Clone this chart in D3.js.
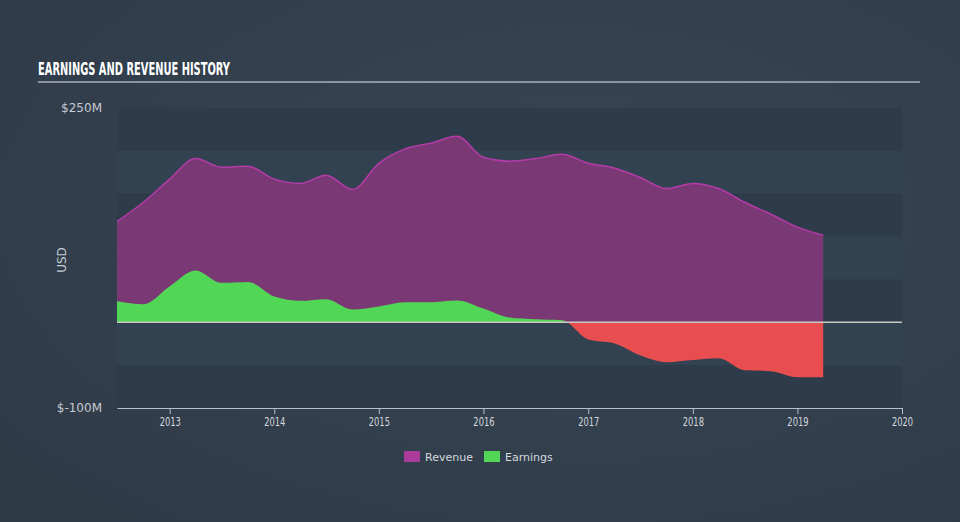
<!DOCTYPE html>
<html>
<head>
<meta charset="utf-8">
<script src="https://cdn.jsdelivr.net/npm/d3@7"></script>
<style>
  html, body { margin: 0; padding: 0; background: #35424f; }
  svg { display: block; }
</style>
</head>
<body>
<svg id="chart" width="960" height="522"></svg>
<script>
// ---- data ----
const dates = ["2012-07-01","2012-10-01","2013-01-01","2013-04-01","2013-07-01","2013-10-01",
  "2014-01-01","2014-04-01","2014-07-01","2014-10-01","2015-01-01","2015-04-01","2015-07-01","2015-10-01",
  "2016-01-01","2016-04-01","2016-07-01","2016-10-01","2017-01-01","2017-04-01","2017-07-01","2017-10-01",
  "2018-01-01","2018-04-01","2018-07-01","2018-10-01","2019-01-01","2019-04-01"];
const revenue = [117.5,140,167,191,181,182,167,162,171.5,155,185.5,202,209,217,
  192.5,188,191,196,185.5,180,169,156,162,156,140,126,111,101.5];
const earnings = [24.5,21,42,60.5,46,47,30,25,27,15,18.5,23.5,23.5,25.5,
  16,5.5,3.5,2.5,-20,-24.5,-38.5,-46.5,-44,-42,-56,-57,-64,-64];
const xTicks = ["2013","2014","2015","2016","2017","2018","2019","2020"];
const yLabels = [250, -100];
const legendItems = ["Revenue","Earnings"];

(function(){
// ---- setup ----
const W = 960, H = 522;
const pL = 117, pR = 902, pT = 108, pB = 408;
const svg = d3.select("#chart");
const parse = d3.timeParse("%Y-%m-%d");
const data = dates.map((d,i)=>({date: parse(d), rev: revenue[i], earn: earnings[i]}));

const x = d3.scaleTime().domain([parse("2012-07-01"), parse("2020-01-01")]).range([pL, pR]);
const y = d3.scaleLinear().domain([-100, 250]).range([pB, pT]);

// background gradient
const defs = svg.append("defs");
const bg = defs.append("radialGradient").attr("id","bg").attr("cx","60%").attr("cy","40%").attr("r","80%");
bg.append("stop").attr("offset","0%").attr("stop-color","#374655");
bg.append("stop").attr("offset","100%").attr("stop-color","#2f3a47");
svg.append("rect").attr("width",W).attr("height",H).attr("fill","url(#bg)");

// title
svg.append("text").attr("x",38).attr("y",75)
  .attr("font-family","'DejaVu Sans Condensed','DejaVu Sans',sans-serif")
  .attr("font-weight","bold").attr("font-size",17)
  .attr("textLength",192).attr("lengthAdjust","spacingAndGlyphs")
  .attr("fill","#ffffff").text("EARNINGS AND REVENUE HISTORY");
svg.append("line").attr("x1",38).attr("x2",920).attr("y1",82).attr("y2",82)
  .attr("stroke","#a9b1bb").attr("stroke-width",1.5);

// stripes
const stripeVals = d3.range(250, -100, -50);
stripeVals.forEach((v,i)=>{
  svg.append("rect").attr("x",pL).attr("width",pR-pL)
    .attr("y",y(v)).attr("height",y(v-50)-y(v))
    .attr("fill", i%2===0 ? "#2e3b4a" : "#334251").attr("opacity",0.9);
});

// clip paths
defs.append("clipPath").attr("id","above").append("rect")
  .attr("x",pL).attr("y",0).attr("width",pR-pL).attr("height",y(0));
defs.append("clipPath").attr("id","below").append("rect")
  .attr("x",pL).attr("y",y(0)).attr("width",pR-pL).attr("height",H-y(0));

const curve = d3.curveMonotoneX;
// revenue area
const revArea = d3.area().x(d=>x(d.date)).y0(y(0)).y1(d=>y(d.rev)).curve(curve);
const revLine = d3.line().x(d=>x(d.date)).y(d=>y(d.rev)).curve(curve);
svg.append("path").datum(data).attr("d",revArea).attr("fill","#7a3874");
svg.append("path").datum(data).attr("d",revLine).attr("fill","none")
  .attr("stroke","#b43ca8").attr("stroke-width",1.5);

// earnings area
const earnArea = d3.area().x(d=>x(d.date)).y0(y(0)).y1(d=>y(d.earn)).curve(curve);
svg.append("path").datum(data).attr("d",earnArea).attr("fill","#52d655").attr("clip-path","url(#above)");
svg.append("path").datum(data).attr("d",earnArea).attr("fill","#e84e4f").attr("clip-path","url(#below)");

// zero line
svg.append("line").attr("x1",pL).attr("x2",pR).attr("y1",y(0)).attr("y2",y(0))
  .attr("stroke","#c9c9c2").attr("stroke-width",1.5);

// x axis
const xAxis = d3.axisBottom(x)
  .tickValues(xTicks.map(t=>parse(t+"-01-01")))
  .tickFormat(d3.timeFormat("%Y")).tickSize(6).tickSizeOuter(0);
const gx = svg.append("g").attr("transform",`translate(0,${pB})`).call(xAxis);
gx.select(".domain").attr("stroke","#b6c1cc");
gx.selectAll(".tick line").attr("stroke","#b6c1cc");
gx.selectAll(".tick text").attr("fill","#d5d9de").attr("font-size",13)
  .attr("font-family","'DejaVu Sans','Noto Sans',sans-serif")
  .attr("transform","scale(0.64,1)");

// y labels
yLabels.forEach(v=>{
  svg.append("text").attr("x",102).attr("y",y(v)+4).attr("text-anchor","end")
    .attr("font-family","'DejaVu Sans','Noto Sans',sans-serif").attr("font-size",12)
    .attr("fill","#c6cbd2").text("$" + v + "M");
});
svg.append("text").attr("transform","translate(66,260) rotate(-90)").attr("text-anchor","middle")
  .attr("font-family","'DejaVu Sans','Noto Sans',sans-serif").attr("font-size",12)
  .attr("fill","#c6cbd2").text("USD");

// legend
const legColors = ["#ab3b9b","#52d655"];
const legX = [404, 484];
legendItems.forEach((t,i)=>{
  svg.append("rect").attr("x",legX[i]).attr("y",451).attr("width",16).attr("height",11).attr("fill",legColors[i]);
  svg.append("text").attr("x",legX[i]+21).attr("y",460.5)
    .attr("font-family","'DejaVu Sans','Noto Sans',sans-serif").attr("font-size",11)
    .attr("fill","#d5d9de").text(t);
});
})();
</script>
</body>
</html>
